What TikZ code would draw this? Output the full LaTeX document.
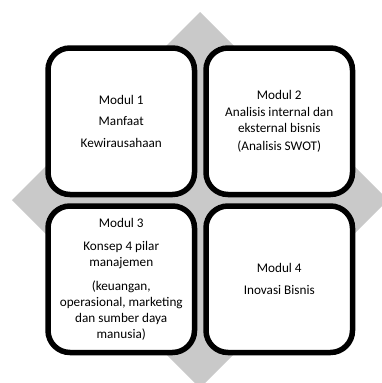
\documentclass[tikz,border=0pt]{standalone}
\usepackage{fontspec}
\setmainfont{Carlito}
\usepackage{tikz}
\usetikzlibrary{positioning}

\begin{document}
\begin{tikzpicture}[x=1pt,y=1pt,node distance=6pt,
		modul/.style={draw,line width=5.5pt,rounded corners=22pt,fill=white,
			minimum width=146.5pt,minimum height=146.5pt,align=center,
			inner sep=2pt,font=\fontsize{13.2}{16}\selectfont}]
		\useasboundingbox (0,0) rectangle (381,-383);
		\fill[black!21] (200,-12) -- (388,-200) -- (200,-388) -- (12,-200) -- cycle;
		\node[modul] (m1) at (121.25,-121.25) {Modul 1\\[5.5pt]Manfaat\\[5.5pt]Kewirausahaan};
		\node[modul] (m2) [right=of m1] {Modul 2\\[1.5pt]Analisis internal dan\\eksternal bisnis\\[1.5pt](Analisis SWOT)};
		\node[modul] (m3) [below=of m1] {\fontsize{13.2}{13.3}\selectfont
			Modul 3\\[7.5pt]Konsep 4 pilar\\manajemen\\[7.5pt](keuangan,\\operasional, marketing\\dan sumber daya\\manusia)};
		\node[modul] (m4) [right=of m3] {Modul 4\\[6pt]Inovasi Bisnis};
	\end{tikzpicture}
\end{document}
